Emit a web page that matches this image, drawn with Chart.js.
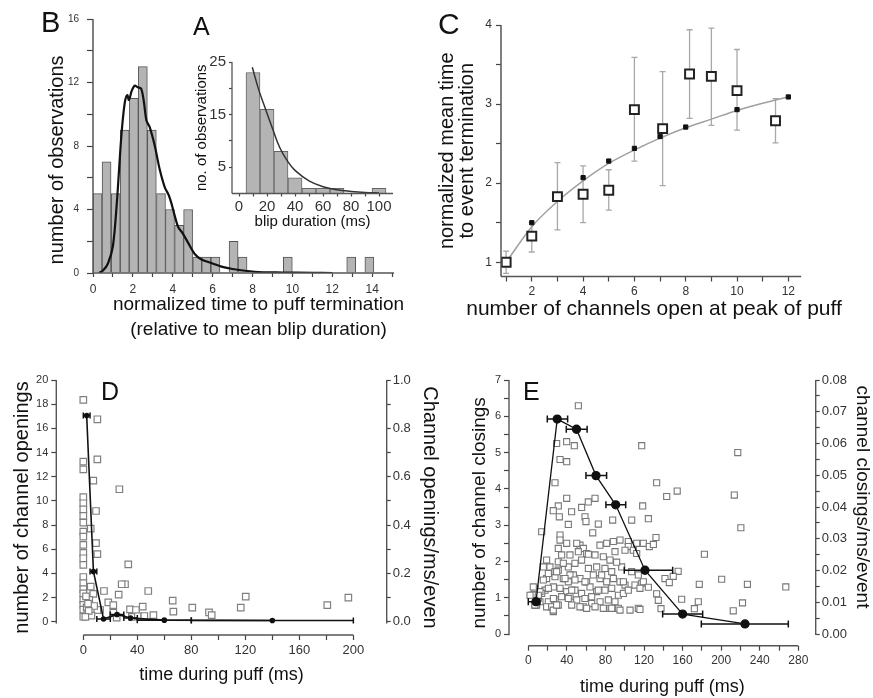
<!DOCTYPE html>
<html>
<head>
<meta charset="utf-8">
<script src="https://cdn.jsdelivr.net/npm/chart.js@4"></script>
<style>
  body { margin: 0; background: #fff; }
  #wrap { position: relative; width: 873px; height: 698px; overflow: hidden; background: #fff;
          font-family: 'Liberation Sans', Arial, sans-serif; }
  canvas { position: absolute; }
  .tag { position: absolute; line-height: 1; color: #111; }
</style>
</head>
<body>
<div id="wrap">
  <canvas id="chartB" width="440" height="345" style="left:0;top:0"></canvas>
  <canvas id="chartA" width="230" height="200" style="left:180px;top:40px"></canvas>
  <canvas id="chartC" width="438" height="330" style="left:435px;top:0"></canvas>
  <canvas id="chartD" width="440" height="338" style="left:0;top:360px"></canvas>
  <canvas id="chartE" width="433" height="338" style="left:440px;top:360px"></canvas>
  <div class="tag" style="left:41px;top:8px;font-size:29px">B</div>
  <div class="tag" style="left:193px;top:14px;font-size:25px">A</div>
  <div class="tag" style="left:438px;top:9px;font-size:30px">C</div>
  <div class="tag" style="left:101px;top:379px;font-size:25px">D</div>
  <div class="tag" style="left:523px;top:379px;font-size:25px">E</div>
</div>
<script>
// ---- Panel B: histogram of normalized puff termination times ----
const bBinCenters = [0.23, 0.68, 1.14, 1.59, 2.05, 2.5, 2.95, 3.41, 3.86, 4.32, 4.77, 5.23, 5.68, 6.14, 6.59, 7.05, 7.5, 9.77, 12.95, 13.86];
const bCounts = [5, 7, 5, 9, 11, 13, 9, 5, 4, 3, 4, 1, 1, 1, 0, 2, 1, 1, 1, 1];
const bFitX = [0.3, 0.5, 0.75, 1.0, 1.2, 1.42, 1.59, 1.72, 1.8, 1.95, 2.09, 2.25, 2.42, 2.55, 2.68, 2.84, 3.1, 3.35, 3.6, 3.8, 3.93, 4.1, 4.27, 4.5, 4.77, 5.1, 5.44, 6.0, 6.44, 7.0, 8.1, 9.5, 11, 12];
const bFitY = [0, 0.15, 0.6, 1.7, 4.5, 8.6, 10.7, 11.2, 10.9, 11.5, 11.8, 11.7, 11.6, 10.8, 9.6, 9.2, 8.0, 6.5, 5.4, 4.9, 4.4, 3.6, 2.9, 2.5, 1.9, 1.2, 0.85, 0.6, 0.4, 0.25, 0.08, 0.03, 0.01, 0];
const bXTicks = [0, 1, 2, 3, 4, 5, 6, 7, 8, 9, 10, 11, 12, 13, 14, 15];
const bXLabels = ['0', '', '2', '', '4', '', '6', '', '8', '', '10', '', '12', '', '14', ''];
const bYTicks = [0, 2, 4, 6, 8, 10, 12, 14, 16];
const bYLabels = ['0', '', '4', '', '8', '', '12', '', '16'];

// ---- Panel A (inset): blip durations ----
const aBinCenters = [10, 20, 30, 40, 50, 60, 70, 80, 90, 100];
const aCounts = [23, 16, 8, 3, 1, 1, 1, 0, 0, 1];
const aFitX = [9.5, 14, 19, 24, 29, 35, 40, 50, 60, 70, 80, 90, 100];
const aFitY = [24, 19.8, 16, 12.3, 8.8, 6.0, 4.4, 2.4, 1.3, 0.7, 0.4, 0.2, 0.1];
const aXTicks = [0, 10, 20, 30, 40, 50, 60, 70, 80, 90, 100];
const aXLabels = ['0', '', '20', '', '40', '', '60', '', '80', '', '100'];
const aYTicks = [5, 10, 15, 20, 25];
const aYLabels = ['5', '', '15', '', '25'];

// ---- Panel C: mean time to termination vs channels open ----
const cDataX = [1, 2, 3, 4, 5, 6, 7.1, 8.15, 9, 10, 11.5];
const cDataY = [1.0, 1.33, 1.83, 1.86, 1.91, 2.93, 2.69, 3.38, 3.35, 3.17, 2.79];
const cErrLow = [0.86, 1.13, 1.41, 1.5, 1.66, 2.28, 1.97, 2.82, 2.73, 2.67, 2.51];
const cErrHigh = [1.14, 1.5, 2.26, 2.22, 2.17, 3.59, 3.41, 3.94, 3.96, 3.69, 3.07];
const cModelX = [2, 4, 5, 6, 7, 8, 10, 12];
const cModelY = [1.5, 2.07, 2.28, 2.44, 2.59, 2.71, 2.93, 3.09];
const cFitX = [1, 2, 3, 4, 5, 6, 7, 8, 9, 10, 11, 12];
const cFitY = [1.0, 1.45, 1.77, 2.03, 2.25, 2.42, 2.57, 2.7, 2.81, 2.92, 3.01, 3.09];
const cXTicks = [1, 2, 3, 4, 5, 6, 7, 8, 9, 10, 11, 12];
const cXLabels = ['', '2', '', '4', '', '6', '', '8', '', '10', '', '12'];
const cYTicks = [1, 1.5, 2, 2.5, 3, 3.5, 4];
const cYLabels = ['1', '', '2', '', '3', '', '4'];

// ---- Panel D: channel openings during puff ----
const dScatterX = [0, 0, 0, 0, 0, 0, 0, 0, 0, 0, 0, 0, 0, 0, 0, 0, 0, 0, 0, 0, 0, 0,
  10.4, 10.4, 7.4, 26.7, 9.4, 5.5, 9.4, 10.4, 33.3, 30.9, 28.4, 15.3, 26.2, 48.1, 5.5, 7.4, 18.5, 22.2, 34.6, 39,
  44, 51.9, 66.2, 66.7, 12.4, 2.5, 4.4, 10.4, 24.7, 36, 40.4, 22.2, 80.7, 93.1, 95.1, 116.6, 120.3, 180.7, 196.3, 45.2,
  3, 6, 8, 2, 4, 1.5, 3.5];
const dScatterY = [18.35, 13.25, 12.6, 10.3, 9.8, 9.3, 8.75, 8.2, 7.45, 7.04, 6.35, 5.7, 5.25, 4.7, 3.7, 3.2, 2.7, 2.35, 1.8, 1.4, 1.0, 0.41,
  16.75, 13.44, 11.67, 10.96, 9.16, 7.7, 6.5, 5.6, 4.75, 3.1, 3.1, 2.54, 2.24, 2.54, 2.9, 2.3, 1.6, 1.38, 1.02, 0.97,
  1.24, 0.55, 1.74, 0.83, 0.97, 1.19, 1.8, 0.97, 0.33, 0.4, 0.45, 0.75, 1.16, 0.78, 0.55, 1.16, 2.07, 1.38, 1.99, 0.47,
  0.7, 0.5, 1.3, 2.1, 0.9, 0.4, 1.5];
const dRateX = [2.5, 7.5, 15, 25, 35, 60, 140];
const dRateY = [0.853, 0.208, 0.011, 0.03, 0.015, 0.0065, 0.005];
const dRateXLow = [0, 5, 10, 20, 30, 40, 80];
const dRateXHigh = [5, 10, 20, 30, 40, 80, 200];
const dXTicks = [0, 20, 40, 60, 80, 100, 120, 140, 160, 180, 200];
const dXLabels = ['0', '', '40', '', '80', '', '120', '', '160', '', '200'];
const dYTicks = [0, 2, 4, 6, 8, 10, 12, 14, 16, 18, 20];
const dYLabels = ['0', '2', '4', '6', '8', '10', '12', '14', '16', '18', '20'];
const dY2Ticks = [0, 0.1, 0.2, 0.3, 0.4, 0.5, 0.6, 0.7, 0.8, 0.9, 1.0];
const dY2Labels = ['0.0', '', '0.2', '', '0.4', '', '0.6', '', '0.8', '', '1.0'];

// ---- Panel E: channel closings during puff ----
const eScatterX = [51.9, 29.4, 39.8, 47.7, 117.6, 217.2, 32.9, 39.8, 27.7, 133.1, 143.5, 154.4, 213.6, 39.8, 31.1, 25.9, 32.2,
  44.9, 55.3, 62.2, 69.2, 118.6, 58.8, 59.8, 41.5, 72.6, 87.5, 107.2, 124.5, 220.4, 66.8, 13.9, 32.9, 132.4,
  32.9, 39.8, 53.6, 74.3, 81.3, 88.2, 95.1, 103.7, 112.4, 119.3, 125.5, 129.7,
  31.1, 57.1, 103.7, 108.9, 50.2,
  19.0, 34.6, 43.2, 51.9, 60.5, 69.2, 77.8, 84.7, 89.9, 100.3, 112.4,
  15.6, 22.5, 31.1, 31.1, 41.5, 48.4, 55.3, 62.3, 70.9, 79.5, 86.5, 96.8, 107.2, 114.1,
  19.0, 27.7, 36.3, 41.5, 46.7, 53.6, 60.5, 67.4, 74.4, 81.3, 88.2, 95.1, 100.3, 110.6, 117.6,
  6.9, 17.3, 26.0, 32.9, 39.8, 48.4, 55.3, 64.0, 70.9, 79.5, 86.5, 93.4, 98.6, 3.5,
  12.1, 20.8, 27.7, 34.6, 43.2, 50.2, 58.8, 65.7, 74.4, 83.0, 89.9, 19.0, 24.2, 31.1, 57.1, 69.2, 77.8, 84.7, 93.4, 105.5, 114.1, 26.0,
  5.2, 13.9, 6.9, 25.9, 15.6, 10.4, 8.6,
  182.6, 155.4, 150.3, 141.7, 146.2, 119.3, 124.5, 115.8, 177.3, 200.5, 227.2, 267, 133.1, 134.8, 137.6, 159, 176.3, 172.2, 222.1, 212.5, 115.8,
  20.8, 27.7, 43.2, 76.1, 38.1, 48.4, 58.8, 98.6, 5.2, 12.1, 20.8, 45.0, 72.6, 103.7, 1.8, 10.4, 26.0, 41.5, 65.7, 6.9,
  29.4, 53.6, 60.5, 86.5, 95.1, 29.4, 36.3, 62.3, 91.6, 45.0];
const eScatterY = [6.29, 5.25, 5.3, 5.19, 5.19, 5.0, 4.81, 4.75, 4.17, 4.17, 3.79, 3.94, 3.83, 3.74, 3.53, 3.40, 3.23,
  3.37, 3.49, 3.64, 3.74, 3.53, 3.23, 3.10, 3.02, 3.03, 3.14, 3.14, 3.18, 2.93, 2.79, 2.82, 2.73, 2.66,
  2.59, 2.5, 2.45, 2.45, 2.5, 2.55, 2.59, 2.55, 2.5, 2.5, 2.41, 2.47,
  2.36, 2.36, 2.41, 2.31, 2.5,
  2.04, 2.18, 2.18, 2.27, 2.22, 2.18, 2.13, 2.04, 2.27, 2.31, 2.22,
  1.85, 1.85, 1.99, 1.76, 1.85, 1.95, 2.04, 1.81, 1.85, 1.81, 1.72, 1.85, 1.72, 1.63,
  1.53, 1.58, 1.53, 1.44, 1.63, 1.53, 1.44, 1.63, 1.53, 1.44, 1.53, 1.44, 1.35, 1.35, 1.40,
  1.26, 1.21, 1.30, 1.26, 1.17, 1.21, 1.12, 1.30, 1.17, 1.21, 1.26, 1.07, 1.12, 1.07,
  0.89, 0.89, 0.94, 1.03, 1.03, 0.94, 0.98, 0.84, 0.89, 0.94, 0.89, 0.75, 0.75, 0.80, 0.75, 0.75, 0.71, 0.71, 0.71, 0.66, 0.71, 0.62,
  1.08, 1.12, 0.8, 0.66, 1.49, 0.99, 0.8,
  2.2, 1.73, 1.59, 1.53, 1.42, 1.44, 1.29, 1.26, 1.37, 1.51, 1.37, 1.3, 1.11, 0.93, 0.7, 0.96, 0.89, 0.7, 0.86, 0.64, 0.68,
  1.67, 1.72, 1.63, 1.63, 1.53, 1.49, 1.44, 1.44, 1.30, 1.17, 1.26, 1.21, 1.21, 1.21, 1.07, 1.07, 0.98, 0.98, 1.03, 0.80,
  0.80, 0.75, 0.71, 0.71, 0.66, 1.72, 1.95, 2.2, 1.98, 0.8];
const eRateX = [8, 30, 50, 70.2, 90.6, 121, 160, 224.7];
const eRateY = [0.0102, 0.0677, 0.0645, 0.0499, 0.0407, 0.0201, 0.0063, 0.0032];
const eRateXLow = [0, 19.7, 39.4, 59.8, 80.5, 99.5, 139.3, 179.4];
const eRateXHigh = [12, 40.8, 61, 81.2, 101, 149.7, 180.8, 269.6];
const eXTicks = [0, 20, 40, 60, 80, 100, 120, 140, 160, 180, 200, 220, 240, 260, 280];
const eXLabels = ['0', '', '40', '', '80', '', '120', '', '160', '', '200', '', '240', '', '280'];
const eYTicks = [0, 0.5, 1, 1.5, 2, 2.5, 3, 3.5, 4, 4.5, 5, 5.5, 6, 6.5, 7];
const eYLabels = ['0', '', '1', '', '2', '', '3', '', '4', '', '5', '', '6', '', '7'];
const eY2Ticks = [0, 0.005, 0.01, 0.015, 0.02, 0.025, 0.03, 0.035, 0.04, 0.045, 0.05, 0.055, 0.06, 0.065, 0.07, 0.075, 0.08];
const eY2Labels = ['0.00', '', '0.01', '', '0.02', '', '0.03', '', '0.04', '', '0.05', '', '0.06', '', '0.07', '', '0.08'];

Chart.defaults.font.family = "'Liberation Sans', Arial, sans-serif";
Chart.defaults.color = '#333';

// Axis lines drawn only over the span the figure shows
const axisLinePlugin = {
    id: 'axisLines',
    afterDatasetsDraw(chart, args, opts) {
        const { ctx, chartArea } = chart;
        ctx.save();
        ctx.strokeStyle = opts.color || '#444';
        ctx.lineWidth = opts.width || 1.5;
        (opts.lines || []).forEach(line => {
            const scale = chart.scales[line.scale];
            const a = scale.getPixelForValue(line.from);
            const b = scale.getPixelForValue(line.to);
            ctx.beginPath();
            if (scale.isHorizontal()) {
                ctx.moveTo(a, chartArea.bottom);
                ctx.lineTo(b, chartArea.bottom);
            } else {
                const x = scale.position === 'right' ? chartArea.right : chartArea.left;
                ctx.moveTo(x, a);
                ctx.lineTo(x, b);
            }
            ctx.stroke();
        });
        ctx.restore();
    }
};

function drawErrorBars(chart, onTop) {
    const ctx = chart.ctx;
    chart.data.datasets.forEach((ds, i) => {
        const eb = ds.errorBars;
        if (!eb || !!eb.onTop !== onTop) return;
        const meta = chart.getDatasetMeta(i);
        const xs = chart.scales[meta.xAxisID];
        const ys = chart.scales[meta.yAxisID];
        ctx.save();
        ctx.strokeStyle = eb.color;
        ctx.lineWidth = eb.width;
        ds.data.forEach((p, j) => {
            const px = xs.getPixelForValue(p.x);
            const py = ys.getPixelForValue(p.y);
            ctx.beginPath();
            if (eb.yLow) {
                const y1 = ys.getPixelForValue(eb.yLow[j]);
                const y2 = ys.getPixelForValue(eb.yHigh[j]);
                ctx.moveTo(px, y1); ctx.lineTo(px, y2);
                ctx.moveTo(px - eb.cap, y1); ctx.lineTo(px + eb.cap, y1);
                ctx.moveTo(px - eb.cap, y2); ctx.lineTo(px + eb.cap, y2);
            }
            if (eb.xLow) {
                const x1 = xs.getPixelForValue(eb.xLow[j]);
                const x2 = xs.getPixelForValue(eb.xHigh[j]);
                ctx.moveTo(x1, py); ctx.lineTo(x2, py);
                ctx.moveTo(x1, py - eb.cap); ctx.lineTo(x1, py + eb.cap);
                ctx.moveTo(x2, py - eb.cap); ctx.lineTo(x2, py + eb.cap);
            }
            ctx.stroke();
        });
        ctx.restore();
    });
}

const errorBarPlugin = {
    id: 'errorBars',
    beforeDatasetsDraw(chart) { drawErrorBars(chart, false); },
    afterDatasetsDraw(chart) { drawErrorBars(chart, true); }
};

Chart.register(axisLinePlugin, errorBarPlugin);

/**
 * Linear axis with a fixed box size, explicit ticks and no border
 */
function makeAxis(cfg) {
    const vertical = cfg.position === 'left' || cfg.position === 'right';
    return {
        type: 'linear',
        position: cfg.position,
        min: cfg.min,
        max: cfg.max,
        bounds: 'data',
        offset: false,
        afterBuildTicks: scale => { scale.ticks = cfg.ticks.map(v => ({ value: v })); },
        afterFit: scale => {
            if (vertical) scale.width = cfg.size;
            else scale.height = cfg.size;
        },
        border: { display: false },
        grid: {
            offset: false,
            drawOnChartArea: false,
            drawTicks: true,
            tickLength: cfg.tickLength || 5,
            color: '#444',
            tickWidth: 1.2
        },
        ticks: {
            autoSkip: false,
            maxRotation: 0,
            padding: cfg.padding === undefined ? 3 : cfg.padding,
            color: '#333',
            font: { size: cfg.font || 12 },
            callback: (v, i) => cfg.labels[i]
        },
        title: {
            display: !!cfg.title,
            text: cfg.title,
            color: '#111',
            font: { size: cfg.titleSize || 18, lineHeight: cfg.titleLine || 1.2 },
            padding: cfg.titlePad || 0
        }
    };
}

function pairs(xs, ys) {
    return xs.map((x, i) => ({ x: x, y: ys[i] }));
}

const baseOptions = {
    responsive: false,
    animation: false,
    events: [],
    plugins: { legend: { display: false }, tooltip: { enabled: false } }
};

// Panel B
new Chart(document.getElementById('chartB'), {
    type: 'bar',
    data: {
        datasets: [
            {
                type: 'line',
                data: pairs(bFitX, bFitY),
                borderColor: '#111',
                borderWidth: 2.2,
                pointRadius: 0,
                tension: 0.3
            },
            {
                type: 'bar',
                data: pairs(bBinCenters, bCounts),
                backgroundColor: '#b4b4b4',
                borderColor: '#555',
                borderWidth: 1,
                barPercentage: 1,
                categoryPercentage: 1
            }
        ]
    },
    options: {
        ...baseOptions,
        layout: { padding: { left: 0, top: 19, right: 16, bottom: 0 } },
        scales: {
            x: makeAxis({ position: 'bottom', min: 0, max: 16.6, ticks: bXTicks, labels: bXLabels, size: 72,
                font: 12, tickLength: 4, padding: 5,
                title: ['normalized time to puff termination', '(relative to mean blip duration)'],
                titleSize: 19, titleLine: 1.32, titlePad: { bottom: 2.5 } }),
            // trailing spaces nudge the centred title down to where the figure has it
            y: makeAxis({ position: 'left', min: 0, max: 16, ticks: bYTicks, labels: bYLabels, size: 93,
                font: 10, tickLength: 6, padding: 8,
                title: 'number of observations     ', titleSize: 20, titlePad: { top: 45 } })
        },
        plugins: {
            ...baseOptions.plugins,
            axisLines: { color: '#555', width: 1.5, lines: [
                { scale: 'x', from: 0, to: 15.1 },
                { scale: 'y', from: 0, to: 16 }
            ] }
        }
    }
});

// Panel A (inset)
new Chart(document.getElementById('chartA'), {
    type: 'bar',
    data: {
        datasets: [
            {
                type: 'line',
                data: pairs(aFitX, aFitY),
                borderColor: '#333',
                borderWidth: 1.5,
                pointRadius: 0,
                tension: 0.4
            },
            {
                type: 'bar',
                data: pairs(aBinCenters, aCounts),
                backgroundColor: '#b4b4b4',
                borderColor: '#666',
                borderWidth: 1,
                barPercentage: 1,
                categoryPercentage: 1
            }
        ]
    },
    options: {
        ...baseOptions,
        layout: { padding: { left: 0, top: 22, right: 17, bottom: 0 } },
        scales: {
            x: makeAxis({ position: 'bottom', min: -5, max: 110, ticks: aXTicks, labels: aXLabels, size: 46.5,
                font: 15, tickLength: 3, padding: 1,
                title: 'blip duration (ms)', titleSize: 15, titlePad: { bottom: 9 } }),
            y: makeAxis({ position: 'left', min: 0, max: 25, ticks: aYTicks, labels: aYLabels, size: 52,
                font: 15, tickLength: 3, padding: 3,
                title: 'no. of observations', titleSize: 15, titlePad: { top: 13 } })
        },
        plugins: {
            ...baseOptions.plugins,
            axisLines: { color: '#555', width: 1.3, lines: [
                { scale: 'x', from: -5, to: 110 },
                { scale: 'y', from: 0, to: 25 }
            ] }
        }
    }
});

// Panel C
new Chart(document.getElementById('chartC'), {
    type: 'scatter',
    data: {
        datasets: [
            {
                data: pairs(cModelX, cModelY),
                pointStyle: 'rect',
                pointRadius: 3,
                backgroundColor: '#111',
                borderColor: '#111',
                borderWidth: 1
            },
            {
                data: pairs(cDataX, cDataY),
                pointStyle: 'rect',
                pointRadius: 6.3,
                backgroundColor: '#fff',
                borderColor: '#222',
                borderWidth: 2,
                errorBars: { yLow: cErrLow, yHigh: cErrHigh, color: '#a8a8a8', width: 1.3, cap: 3 }
            },
            {
                data: pairs(cFitX, cFitY),
                showLine: true,
                pointRadius: 0,
                borderColor: '#a0a0a0',
                borderWidth: 1.5,
                cubicInterpolationMode: 'monotone'
            }
        ]
    },
    options: {
        ...baseOptions,
        layout: { autoPadding: false, padding: { left: 0, top: 25, right: 0, bottom: 0 } },
        scales: {
            x: makeAxis({ position: 'bottom', min: 0.8, max: 15.3, ticks: cXTicks, labels: cXLabels, size: 20,
                font: 12, tickLength: 5, padding: 3 }),
            y: makeAxis({ position: 'left', min: 0.82, max: 4, ticks: cYTicks, labels: cYLabels, size: 66,
                font: 12, tickLength: 5, padding: 4,
                title: ['normalized mean time', 'to event termination'], titleSize: 20, titleLine: 1.0, titlePad: { top: 2 } })
        },
        plugins: {
            ...baseOptions.plugins,
            // the x-axis label is wider than the axis, so it goes in the chart title box
            title: {
                display: true,
                position: 'bottom',
                text: 'number of channels open at peak of puff',
                color: '#111',
                font: { size: 21, weight: 'normal', lineHeight: 1.2 },
                padding: { top: 0, bottom: 8.3 }
            },
            axisLines: { color: '#555', width: 1.5, lines: [
                { scale: 'x', from: 0.8, to: 12.5 },
                { scale: 'y', from: 0.82, to: 4 }
            ] }
        }
    }
});

// Panel D
new Chart(document.getElementById('chartD'), {
    type: 'scatter',
    data: {
        datasets: [
            {
                data: pairs(dRateX, dRateY),
                yAxisID: 'y2',
                showLine: true,
                borderColor: '#111',
                borderWidth: 1.6,
                pointRadius: 2,
                backgroundColor: '#111',
                errorBars: { xLow: dRateXLow, xHigh: dRateXHigh, color: '#111', width: 1.5, cap: 3, onTop: true }
            },
            {
                data: pairs(dScatterX, dScatterY),
                pointStyle: 'rect',
                pointRadius: 4.6,
                backgroundColor: '#fff',
                borderColor: '#808080',
                borderWidth: 1.2
            }
        ]
    },
    options: {
        ...baseOptions,
        layout: { padding: { left: 0, top: 20, right: 0, bottom: 0 } },
        scales: {
            x: makeAxis({ position: 'bottom', min: -20, max: 224.7, ticks: dXTicks, labels: dXLabels, size: 63,
                font: 13, tickLength: 5, padding: 3,
                title: 'time during puff (ms)', titleSize: 18, titlePad: { bottom: 12 } }),
            y: makeAxis({ position: 'left', min: -1.1, max: 20, ticks: dYTicks, labels: dYLabels, size: 56.3,
                font: 11, tickLength: 5, padding: 3,
                title: 'number of channel openings', titleSize: 20, titlePad: { top: 10 } }),
            y2: makeAxis({ position: 'right', min: -0.055, max: 1.0, ticks: dY2Ticks, labels: dY2Labels, size: 53.3,
                font: 13, tickLength: 4, padding: 2,
                title: 'Channel openings/ms/even', titleSize: 20, titleLine: 1.0, titlePad: { top: 0 } })
        },
        plugins: {
            ...baseOptions.plugins,
            axisLines: { color: '#555', width: 1.4, lines: [
                { scale: 'x', from: 0, to: 200 },
                { scale: 'y', from: -0.15, to: 20 },
                { scale: 'y2', from: -0.0075, to: 1.0 }
            ] }
        }
    }
});

// Panel E
new Chart(document.getElementById('chartE'), {
    type: 'scatter',
    data: {
        datasets: [
            {
                data: pairs(eRateX, eRateY),
                yAxisID: 'y2',
                showLine: true,
                borderColor: '#111',
                borderWidth: 1.3,
                pointRadius: 4,
                backgroundColor: '#111',
                errorBars: { xLow: eRateXLow, xHigh: eRateXHigh, color: '#111', width: 1.5, cap: 3.5, onTop: true }
            },
            {
                data: pairs(eScatterX, eScatterY),
                pointStyle: 'rect',
                pointRadius: 4.3,
                backgroundColor: '#fff',
                borderColor: '#777',
                borderWidth: 1.1
            }
        ]
    },
    options: {
        ...baseOptions,
        layout: { padding: { left: 0, top: 20, right: 0, bottom: 0 } },
        scales: {
            x: makeAxis({ position: 'bottom', min: -20, max: 298, ticks: eXTicks, labels: eXLabels, size: 52.3,
                font: 12, tickLength: 5, padding: 3,
                title: 'time during puff (ms)', titleSize: 18, titlePad: { bottom: 0 } }),
            y: makeAxis({ position: 'left', min: -0.32, max: 7, ticks: eYTicks, labels: eYLabels, size: 69,
                font: 11, tickLength: 5, padding: 3,
                title: 'number of channel closings', titleSize: 19, titlePad: { top: 28.6 } }),
            y2: makeAxis({ position: 'right', min: -0.003657, max: 0.08, ticks: eY2Ticks, labels: eY2Labels, size: 57.3,
                font: 13, tickLength: 4, padding: 2,
                title: 'channel closings/ms/event      ', titleSize: 19, titleLine: 1.0, titlePad: { top: 1.5 } })
        },
        plugins: {
            ...baseOptions.plugins,
            axisLines: { color: '#555', width: 1.4, lines: [
                { scale: 'x', from: 0, to: 280 },
                { scale: 'y', from: -0.03, to: 7 },
                { scale: 'y2', from: -0.0003, to: 0.08 }
            ] }
        }
    }
});
</script>
</body>
</html>
